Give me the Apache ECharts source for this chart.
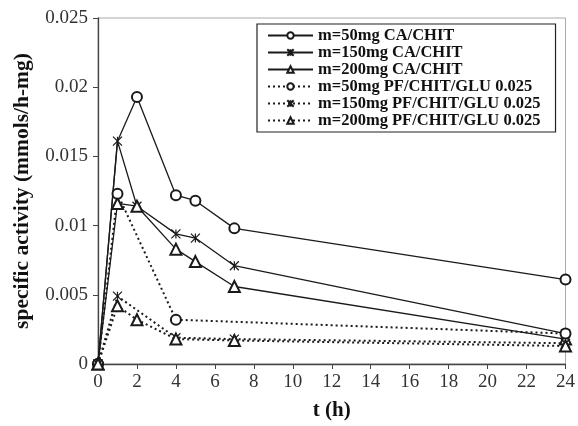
<!DOCTYPE html>
<html>
<head>
<meta charset="utf-8">
<script src="https://cdn.jsdelivr.net/npm/echarts@6/dist/echarts.min.js"></script>
<style>
  html, body { margin: 0; padding: 0; background: #fff; }
  #chart { width: 578px; height: 426px; }
</style>
</head>
<body>
<div id="chart"></div>
<script>
// x ticks (h) and y tick labels
const xTicks = [0, 2, 4, 6, 8, 10, 12, 14, 16, 18, 20, 22, 24]
const yTickLabels = ['0', '0.005', '0.01', '0.015', '0.02', '0.025']

// CA/CHIT series, sampled at the same times
const tCA = [0, 1, 2, 4, 5, 7, 24]
const ca50 = [0, 0.0161, 0.0193, 0.0122, 0.0118, 0.0098, 0.0061]
const ca150 = [0, 0.0161, 0.0114, 0.0094, 0.0091, 0.0071, 0.0022]
const ca200 = [0, 0.0116, 0.0114, 0.0083, 0.0074, 0.0056, 0.0018]

// PF/CHIT/GLU 0.025 series
const tPF50 = [0, 1, 4, 24]
const pf50 = [0, 0.0123, 0.0032, 0.0022]
const tPF150 = [0, 1, 4, 7, 24]
const pf150 = [0, 0.0049, 0.0019, 0.0018, 0.0015]
const tPF200 = [0, 1, 2, 4, 7, 24]
const pf200 = [0, 0.0042, 0.0032, 0.0018, 0.0017, 0.0013]

const names = [
  'm=50mg CA/CHIT',
  'm=150mg CA/CHIT',
  'm=200mg CA/CHIT',
  'm=50mg PF/CHIT/GLU 0.025',
  'm=150mg PF/CHIT/GLU 0.025',
  'm=200mg PF/CHIT/GLU 0.025'
]

const serif = '"Liberation Serif", "DejaVu Serif", serif'
const star = 'path://M0,0L10,10M0,10L10,0M5,0L5,10'

function pairs(xs, ys) {
  return xs.map((x, i) => [x, ys[i]])
}

function makeSeries(name, data, symbol, size, dotted) {
  return {
    name: name,
    type: 'line',
    data: data,
    symbol: symbol,
    symbolSize: size,
    clip: false,
    lineStyle: dotted
      ? { color: '#1a1a1a', width: 2, type: [2, 3] }
      : { color: '#1a1a1a', width: 1.3, type: 'solid' },
    itemStyle: { color: '#1a1a1a', borderColor: '#1a1a1a', borderWidth: 1.2 },
    emphasis: { disabled: true }
  }
}

// the 50mg CA/CHIT marker at t=1 sits under the 150mg one and is not drawn in the source
const ca50Data = pairs(tCA, ca50).map((p, i) => (i === 1 ? { value: p, symbol: 'none' } : p))

const chart = echarts.init(document.getElementById('chart'))
const option = {
  animation: false,
  backgroundColor: '#fff',
  grid: {
    left: 98,
    right: 11,
    top: 18,
    bottom: 55,
    show: true,
    borderColor: '#aaa',
    borderWidth: 1
  },
  legend: {
    orient: 'vertical',
    left: 257,
    top: 24,
    padding: [3, 15, 3, 10],
    itemGap: 0,
    itemWidth: 45,
    itemHeight: 8,
    borderColor: '#222',
    borderWidth: 1.2,
    backgroundColor: '#fff',
    data: names,
    textStyle: {
      fontFamily: serif,
      fontWeight: 'bold',
      fontSize: 16.5,
      lineHeight: 16,
      color: '#111'
    }
  },
  xAxis: {
    type: 'value',
    min: 0,
    max: 24,
    interval: 2,
    name: 't (h)',
    nameLocation: 'middle',
    nameGap: 36,
    nameTextStyle: { fontFamily: serif, fontWeight: 'bold', fontSize: 21, color: '#111' },
    axisLine: { show: true, lineStyle: { color: '#444', width: 1.3 } },
    axisTick: { show: true, length: 5, lineStyle: { color: '#444' } },
    axisLabel: {
      margin: 9,
      fontFamily: serif,
      fontSize: 19,
      color: '#333',
      formatter: v => (xTicks.includes(v) ? String(v) : '')
    },
    splitLine: { show: false }
  },
  yAxis: {
    type: 'value',
    min: 0,
    max: 0.025,
    interval: 0.005,
    name: 'specific activity (mmols/h-mg)',
    nameLocation: 'middle',
    nameGap: 65,
    nameTextStyle: { fontFamily: serif, fontWeight: 'bold', fontSize: 21.5, color: '#111' },
    axisLine: { show: true, lineStyle: { color: '#444', width: 1.3 } },
    axisTick: { show: true, length: 5, lineStyle: { color: '#444' } },
    axisLabel: {
      margin: 10,
      fontFamily: serif,
      fontSize: 19,
      color: '#333',
      formatter: v => yTickLabels[Math.round(v / 0.005)]
    },
    splitLine: { show: false }
  },
  series: [
    makeSeries(names[0], ca50Data, 'emptyCircle', 10, false),
    makeSeries(names[1], pairs(tCA, ca150), star, 9, false),
    makeSeries(names[2], pairs(tCA, ca200), 'emptyTriangle', 11, false),
    makeSeries(names[3], pairs(tPF50, pf50), 'emptyCircle', 10, true),
    makeSeries(names[4], pairs(tPF150, pf150), star, 9, true),
    makeSeries(names[5], pairs(tPF200, pf200), 'emptyTriangle', 11, true)
  ]
}
chart.setOption(option)
</script>
</body>
</html>
